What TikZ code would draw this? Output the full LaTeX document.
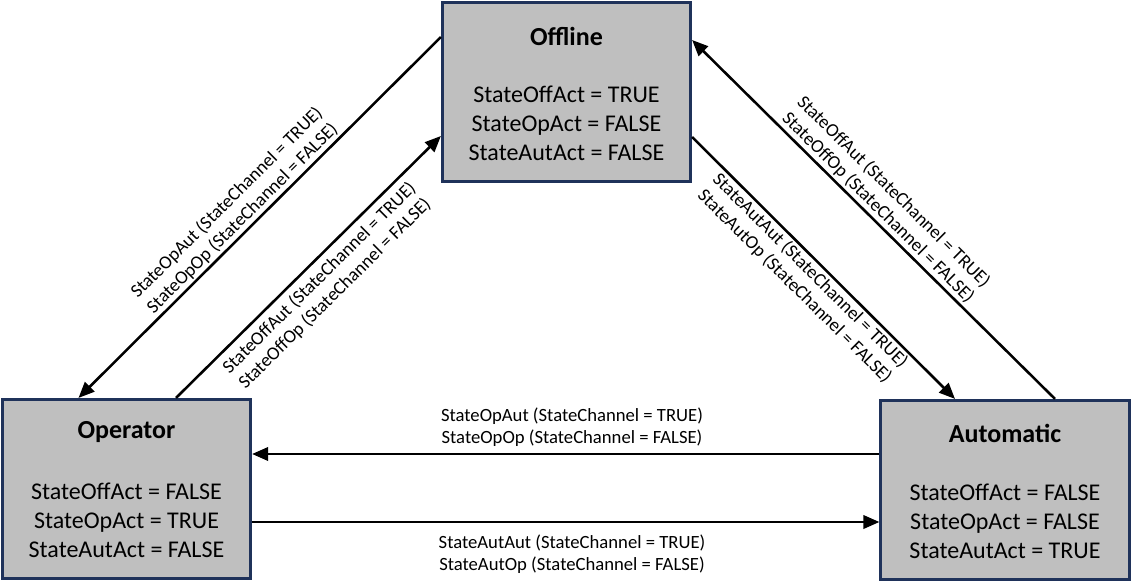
\documentclass[tikz,border=0pt]{standalone}
\usepackage{fontspec}
\setmainfont{Carlito}
\usetikzlibrary{arrows.meta,calc}
\definecolor{boxfill}{RGB}{191,191,191}
\definecolor{boxline}{RGB}{31,50,90}
\begin{document}
\begin{tikzpicture}[x=0.75pt,y=-0.75pt,
  statebox/.style={draw=boxline, fill=boxfill, line width=2pt, minimum width=186.4pt, minimum height=134.6pt, inner sep=0pt},
  titletext/.style={font=\fontsize{19.5}{23}\selectfont\bfseries, inner sep=0pt},
  bodytext/.style={font=\fontsize{18}{21.75}\selectfont, align=center, inner sep=0pt},
  arr/.style={line width=1.9pt, -{Triangle[length=12pt,width=10pt]}},
  lbl/.style={font=\fontsize{14}{16.5}\selectfont, align=center, inner sep=1.5pt}]
\useasboundingbox (0,0) rectangle (1132,586);

% state boxes
\node[statebox] (off) at (566.5,92) {};
\node[statebox] (op)  at (126.5,489) {};
\node[statebox] (aut) at (1005,490) {};

\node[titletext] (offT) at ($(off.center)+(0,-56)$) {Offline};
\node[bodytext]  (offB) at ($(off.center)+(0,31)$) {StateOffAct = TRUE\\StateOpAct = FALSE\\StateAutAct = FALSE};
\node[titletext] (opT) at ($(op.center)+(0,-57)$) {Operator};
\node[bodytext]  (opB) at ($(op.center)+(0,31)$) {StateOffAct = FALSE\\StateOpAct = TRUE\\StateAutAct = FALSE};
\node[titletext] (autT) at ($(aut.center)+(0,-57)$) {Automatic};
\node[bodytext]  (autB) at ($(aut.center)+(0,31)$) {StateOffAct = FALSE\\StateOpAct = FALSE\\StateAutAct = TRUE};

% connector end points on the box borders
\coordinate (aS) at ($(off.west)+(0,-55)$);
\coordinate (aE) at ($(op.north)+(-48,0)$);
\coordinate (bS) at ($(op.north)+(49.5,0)$);
\coordinate (bE) at ($(off.west)+(0,44)$);
\coordinate (cS) at ($(off.east)+(0,45)$);
\coordinate (cE) at ($(aut.north)+(-50,0)$);
\coordinate (dS) at ($(aut.north)+(50,0)$);
\coordinate (dE) at ($(off.east)+(0,-52)$);
\coordinate (tS) at ($(aut.west)+(0,-36)$);
\coordinate (uS) at ($(op.east)+(0,33)$);

% connectors
\draw[arr] (aS) -- node[lbl, sloped, above, pos=0.525] {StateOpAut (StateChannel = TRUE)\\StateOpOp (StateChannel = FALSE)} (aE);
\draw[arr] (bS) -- node[lbl, sloped, below=3pt, pos=0.5] {StateOffAut (StateChannel = TRUE)\\StateOffOp (StateChannel = FALSE)} (bE);
\draw[arr] (cS) -- node[lbl, sloped, below, pos=0.48] {StateAutAut (StateChannel = TRUE)\\StateAutOp (StateChannel = FALSE)} (cE);
\draw[arr] (dS) -- node[lbl, sloped, above, pos=0.51] {StateOffAut (StateChannel = TRUE)\\StateOffOp (StateChannel = FALSE)} (dE);
\draw[arr] (tS) -- node[lbl, above=3pt, pos=0.49] {StateOpAut (StateChannel = TRUE)\\StateOpOp (StateChannel = FALSE)} (tS -| op.east);
\draw[arr] (uS) -- node[lbl, below=7pt, pos=0.51] {StateAutAut (StateChannel = TRUE)\\StateAutOp (StateChannel = FALSE)} (uS -| aut.west);
\end{tikzpicture}
\end{document}
